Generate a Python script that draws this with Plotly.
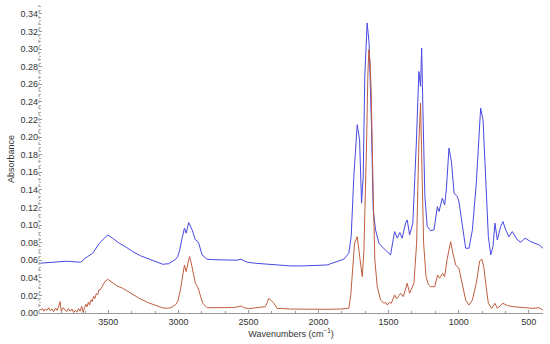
import plotly.graph_objects as go

# FTIR spectra (wavenumber in cm-1, absorbance)
wn_blue = [3995, 3900, 3850, 3800, 3740, 3700, 3684, 3670, 3648, 3612, 3564, 3530,
           3505, 3470, 3422, 3370, 3326, 3270, 3207, 3150, 3112, 3070, 3041, 3020,
           3005, 2990, 2974, 2957, 2945, 2926, 2902, 2879, 2865, 2855, 2831, 2795,
           2750, 2700, 2640, 2581, 2553, 2530, 2510, 2450, 2367, 2271, 2200, 2105,
           2000, 1938, 1914, 1860, 1819, 1784, 1767, 1748, 1735, 1724, 1707, 1693,
           1681, 1670, 1653, 1639, 1622, 1610, 1593, 1569, 1545, 1522, 1500, 1486,
           1457, 1438, 1420, 1403, 1379, 1367, 1350, 1327, 1302, 1284, 1272, 1264,
           1255, 1241, 1224, 1200, 1176, 1152, 1140, 1117, 1100, 1088, 1069, 1050,
           1033, 1010, 998, 974, 950, 926, 902, 874, 843, 826, 807, 788, 771, 755,
           741, 724, 700, 684, 664, 641, 617, 581, 557, 526, 486, 450, 426, 398]
abs_blue = [0.0565, 0.0578, 0.0584, 0.0588, 0.0582, 0.0577, 0.0592, 0.0620, 0.0641, 0.0679, 0.0793, 0.0850,
            0.0887, 0.0850, 0.0793, 0.0745, 0.0697, 0.0650, 0.0611, 0.0575, 0.0554, 0.0560, 0.0584, 0.0610,
            0.0641, 0.0720, 0.0850, 0.0964, 0.0907, 0.1027, 0.0944, 0.0831, 0.0815, 0.0793, 0.0660, 0.0611,
            0.0606, 0.0603, 0.0603, 0.0600, 0.0611, 0.0595, 0.0577, 0.0565, 0.0554, 0.0540, 0.0535, 0.0535,
            0.0540, 0.0546, 0.0560, 0.0585, 0.0611, 0.0679, 0.0868, 0.1551, 0.1950, 0.2139, 0.1968, 0.1248,
            0.1551, 0.2688, 0.3296, 0.3068, 0.2120, 0.1172, 0.0944, 0.0793, 0.0750, 0.0717, 0.0690, 0.0660,
            0.0925, 0.0850, 0.0914, 0.0850, 0.1021, 0.1058, 0.0887, 0.1021, 0.1931, 0.2745, 0.2575, 0.3011,
            0.2310, 0.1323, 0.0982, 0.0936, 0.0944, 0.1209, 0.1153, 0.1305, 0.1229, 0.1399, 0.1874, 0.1703,
            0.1362, 0.1323, 0.1266, 0.1021, 0.0736, 0.0736, 0.0944, 0.1476, 0.2329, 0.2196, 0.1551, 0.0868, 0.0660, 0.0754,
            0.1021, 0.0831, 0.0982, 0.1039, 0.0944, 0.0868, 0.0925, 0.0831, 0.0804, 0.0850, 0.0811, 0.0793, 0.0774, 0.0736]

wn_red = [3995, 3982, 3970, 3961, 3950, 3938, 3925, 3915, 3902, 3890, 3877, 3866,
          3854, 3845, 3836, 3822, 3810, 3797, 3786, 3772, 3760, 3748, 3736, 3725,
          3713, 3702, 3690, 3680, 3670, 3661, 3652, 3642, 3634, 3624, 3615, 3605,
          3596, 3586, 3576, 3566, 3555, 3542, 3525, 3505, 3470, 3440, 3398, 3340,
          3279, 3220, 3159, 3120, 3088, 3060, 3041, 3020, 3005, 2986, 2970, 2957,
          2945, 2935, 2921, 2910, 2898, 2879, 2865, 2855, 2840, 2826, 2795, 2700,
          2652, 2600, 2553, 2530, 2498, 2420, 2379, 2366, 2355, 2345, 2336, 2319,
          2295, 2200, 2105, 2000, 1938, 1850, 1800, 1784, 1770, 1760, 1743, 1724,
          1705, 1688, 1676, 1665, 1657, 1648, 1641, 1632, 1624, 1610, 1598, 1581,
          1557, 1533, 1520, 1510, 1495, 1481, 1470, 1457, 1448, 1438, 1425, 1414,
          1395, 1380, 1367, 1350, 1335, 1319, 1300, 1284, 1272, 1262, 1250, 1233,
          1215, 1200, 1171, 1150, 1136, 1114, 1100, 1083, 1057, 1041, 1021, 998,
          974, 950, 926, 902, 874, 850, 835, 820, 807, 788, 764, 741,
          724, 700, 684, 660, 641, 600, 546, 474, 426, 398]
abs_red = [0.004, 0.0035, 0.005, 0.002, 0.0045, 0.003, 0.006, 0.0025, 0.0045, 0.0015, 0.0055, 0.003,
           0.008, 0.013, 0.002, 0.006, 0.0035, 0.0015, 0.005, 0.002, 0.0045, 0.0005, 0.003, 0.001,
           0.005, 0.002, 0.0075, 0.0005, 0.006, 0.010, 0.007, 0.0125, 0.009, 0.015, 0.013, 0.019,
           0.0165, 0.022, 0.021, 0.0265, 0.027, 0.031, 0.0355, 0.0383, 0.0345, 0.0310, 0.0281, 0.0225,
           0.0167, 0.0120, 0.0080, 0.0062, 0.0053, 0.0058, 0.0072, 0.0095, 0.0129, 0.0262, 0.0420, 0.0546,
           0.0470, 0.0560, 0.0641, 0.0580, 0.0489, 0.0338, 0.0300, 0.0262, 0.0180, 0.0110, 0.0060, 0.0058,
           0.0060, 0.0062, 0.0080, 0.0060, 0.0049, 0.0060, 0.0072, 0.0120, 0.0167, 0.0150, 0.0140, 0.0110,
           0.0053, 0.0045, 0.0042, 0.0042, 0.0042, 0.0045, 0.0048, 0.0053, 0.0200, 0.0413, 0.0793, 0.0868,
           0.0641, 0.0413, 0.0717, 0.1300, 0.1931, 0.2700, 0.2992, 0.2850, 0.2500, 0.1362, 0.0603, 0.0299,
           0.0148, 0.0110, 0.0120, 0.0091, 0.0120, 0.0110, 0.0160, 0.0205, 0.0170, 0.0167, 0.0200, 0.0224,
           0.0186, 0.0260, 0.0338, 0.0224, 0.0280, 0.0338, 0.0793, 0.1931, 0.2386, 0.1551, 0.0793, 0.0413,
           0.0320, 0.0299, 0.0299, 0.0432, 0.0395, 0.0452, 0.0413, 0.0603, 0.0811, 0.0679, 0.0546, 0.0508,
           0.0338, 0.0148, 0.0091, 0.0148, 0.0338, 0.0590, 0.0611, 0.0520, 0.0338, 0.0110, 0.0053, 0.0110,
           0.0053, 0.0090, 0.0110, 0.0090, 0.0080, 0.0070, 0.0060, 0.0053, 0.0060, 0.0034]

x_ticks = [3500, 3000, 2500, 2000, 1500, 1000, 500]

fig = go.Figure()
fig.add_trace(go.Scatter(x=wn_blue, y=abs_blue, mode="lines",
                         line=dict(color="#4848e2", width=1)))
fig.add_trace(go.Scatter(x=wn_red, y=abs_red, mode="lines",
                         line=dict(color="#bf5e3e", width=1)))

font = dict(family="Liberation Sans, Arial, sans-serif", size=9, color="#333333")

fig.update_layout(
    width=550, height=344,
    margin=dict(l=39, r=7, t=5, b=31),
    paper_bgcolor="white", plot_bgcolor="white",
    showlegend=False,
    font=font,
    xaxis=dict(
        range=[3995, 398], tickvals=x_ticks, showgrid=False, zeroline=False,
        showline=True, linecolor="#999999", linewidth=1, automargin=False,
        ticks="inside", ticklen=3, tickcolor="#999999",
        minor=dict(dtick=500 / 3, ticks="inside", ticklen=2, tickcolor="#999999"),
        title=dict(text="Wavenumbers (cm<sup>−1</sup>)", standoff=3, font=font),
        tickfont=font,
    ),
    yaxis=dict(
        range=[0, 0.35], dtick=0.02, tickformat=".2f", showgrid=False, zeroline=False,
        showline=False, automargin=False,
        ticks="inside", ticklen=3, tickcolor="#999999",
        minor=dict(dtick=0.004, ticks="inside", ticklen=2, tickcolor="#aaaaaa"),
        title=dict(text="Absorbance", standoff=4, font=font),
        tickfont=font,
    ),
)

# dotted left axis line
fig.add_shape(type="line", xref="paper", yref="paper", x0=0, x1=0, y0=0, y1=1,
              line=dict(color="#999999", width=1, dash="dot"))

# drop the default page margin so the figure sits at the window's corner
fig.write_html("out.html", config={"displayModeBar": False},
               post_script="document.body.style.margin='0';")
